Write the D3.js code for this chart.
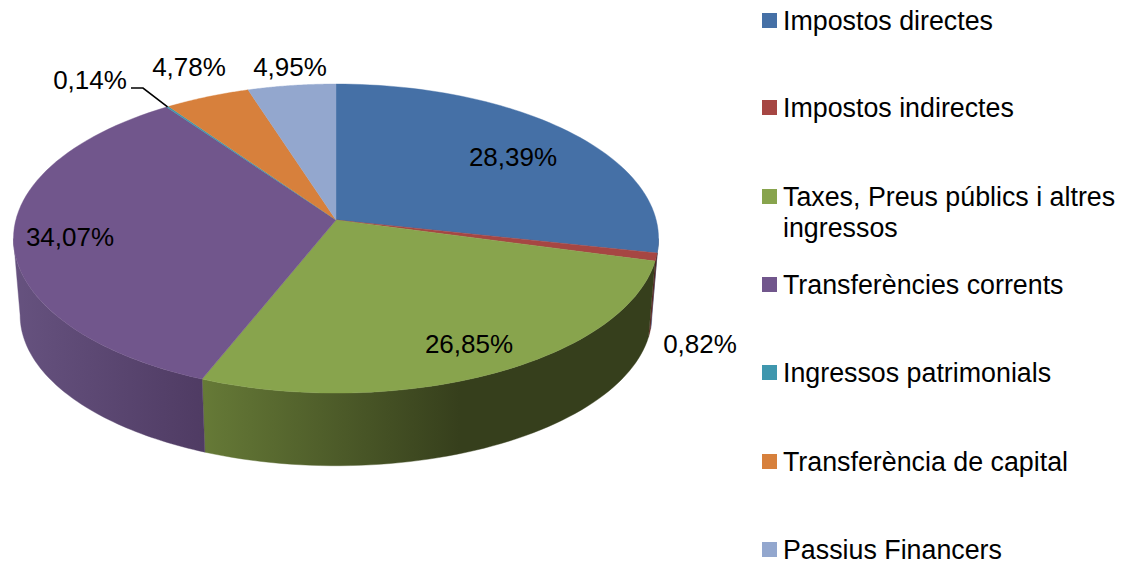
<!DOCTYPE html>
<html>
<head>
<meta charset="utf-8">
<script src="https://cdn.jsdelivr.net/npm/d3@7"></script>
<style>
  html, body { margin: 0; background: #fff; }
  svg { display: block; }
  text { font-family: "Liberation Sans", Arial, sans-serif; font-size: 26px; fill: #000; }
  .legend text { font-size: 26.8px; }
</style>
</head>
<body>
<div id="chart"></div>
<script>
const categories = [
  'Impostos directes',
  'Impostos indirectes',
  'Taxes, Preus públics i altres ingressos',
  'Transferències corrents',
  'Ingressos patrimonials',
  'Transferència de capital',
  'Passius Financers',
]
const values = [28.39, 0.82, 26.85, 34.07, 0.14, 4.78, 4.95]
const colors = ['#4570a6', '#a64643', '#88a44d', '#71568c', '#3f97ae', '#d7803c', '#93a7ce']
const sideLight = ['#4570a6', '#6b2c2a', '#667a37', '#66527f', '#3f97ae', '#d7803c', '#93a7ce']
const sideDark = ['#2b4568', '#4a1e1d', '#363f1c', '#4f3b63', '#265c6a', '#854f25', '#5b6780']

const legendLines = [
  ['Impostos directes'],
  ['Impostos indirectes'],
  ['Taxes, Preus públics i altres', 'ingressos'],
  ['Transferències corrents'],
  ['Ingressos patrimonials'],
  ['Transferència de capital'],
  ['Passius Financers'],
]
const legendY = [21, 108, 197, 285, 373, 462, 550]
const labelPos = [[513, 157], [700, 344], [469, 344], [70, 237], [90, 80], [189, 67], [290, 67]]

const WIDTH = 1133
const HEIGHT = 561

// perspective model of the disc, top rim and bottom rim
const topRim = {cx: 336, cy: 220, a: 320.2, b: 152.3}
const bottomRim = {cx: 336, cy: 297, a: 313.6, b: 148.5}
const K = 0.12

const project = (rim, angle) => {
  const w = 1 + K * Math.cos(angle)
  return [rim.cx + rim.a * Math.sin(angle) / w, rim.cy - rim.b * Math.cos(angle) / w]
}

const percent = d3.formatLocale({decimal: ',', thousands: '.', grouping: [3], currency: ['', '']}).format('.2f')

const pie = d3.pie().sort(null).value(d => d)
const slices = pie(values)

const sampleAngles = (from, to) => d3.range(0, 61).map(i => from + (to - from) * i / 60)
const line = d3.line()

const svg = d3.select('#chart').append('svg')
  .attr('width', WIDTH)
  .attr('height', HEIGHT)

const defs = svg.append('defs')

// front wall is only visible between the two silhouette angles
const sideFrom = Math.PI - Math.acos(K)
const sideTo = Math.PI + Math.acos(K)

const sideGroup = svg.append('g').attr('class', 'side')
slices.forEach((s, i) => {
  const from = Math.max(s.startAngle, sideFrom)
  const to = Math.min(s.endAngle, sideTo)
  if (to <= from) return
  const angles = sampleAngles(from, to)
  const pts = angles.map(a => project(topRim, a))
    .concat(angles.slice().reverse().map(a => project(bottomRim, a)))

  const id = `side-${i}`
  const xs = pts.map(p => p[0])
  // green fades to its dark tone before the right end
  const grad = defs.append('linearGradient')
    .attr('id', id)
    .attr('gradientUnits', 'userSpaceOnUse')
    .attr('x1', d3.min(xs))
    .attr('x2', i === 2 ? 460 : d3.max(xs))
    .attr('y1', 0)
    .attr('y2', 0)
  grad.append('stop').attr('offset', 0).attr('stop-color', sideLight[i])
  grad.append('stop').attr('offset', 1).attr('stop-color', sideDark[i])

  sideGroup.append('path')
    .attr('d', line(pts) + 'Z')
    .attr('fill', `url(#${id})`)
    .attr('stroke', `url(#${id})`)
    .attr('stroke-width', 0.4)
})

const topGroup = svg.append('g').attr('class', 'top')
topGroup.selectAll('path')
  .data(slices)
  .join('path')
  .attr('d', s => {
    const pts = sampleAngles(s.startAngle, s.endAngle).map(a => project(topRim, a))
    return line([[topRim.cx, topRim.cy]].concat(pts)) + 'Z'
  })
  .attr('fill', (s, i) => colors[i])
  .attr('stroke', (s, i) => colors[i])
  .attr('stroke-width', 0.4)

// leader for the tiny slice
const tiny = slices[4]
const tinyEnd = project(topRim, (tiny.startAngle + tiny.endAngle) / 2)
svg.append('path')
  .attr('d', line([[131, 88], [143, 88], tinyEnd]))
  .attr('fill', 'none')
  .attr('stroke', '#000')
  .attr('stroke-width', 1.6)

svg.append('g').attr('class', 'labels')
  .selectAll('text')
  .data(values)
  .join('text')
  .attr('x', (d, i) => labelPos[i][0])
  .attr('y', (d, i) => labelPos[i][1])
  .attr('dy', '0.36em')
  .attr('text-anchor', 'middle')
  .text(d => `${percent(d)}%`)

const legend = svg.append('g').attr('class', 'legend')
categories.forEach((c, i) => {
  legend.append('rect')
    .attr('x', 762)
    .attr('y', legendY[i] - 8)
    .attr('width', 15)
    .attr('height', 15)
    .attr('fill', colors[i])
  legendLines[i].forEach((t, j) => {
    legend.append('text')
      .attr('x', 783)
      .attr('y', legendY[i] - 1 + j * 31)
      .attr('dy', '0.36em')
      .text(t)
  })
})
</script>
</body>
</html>
